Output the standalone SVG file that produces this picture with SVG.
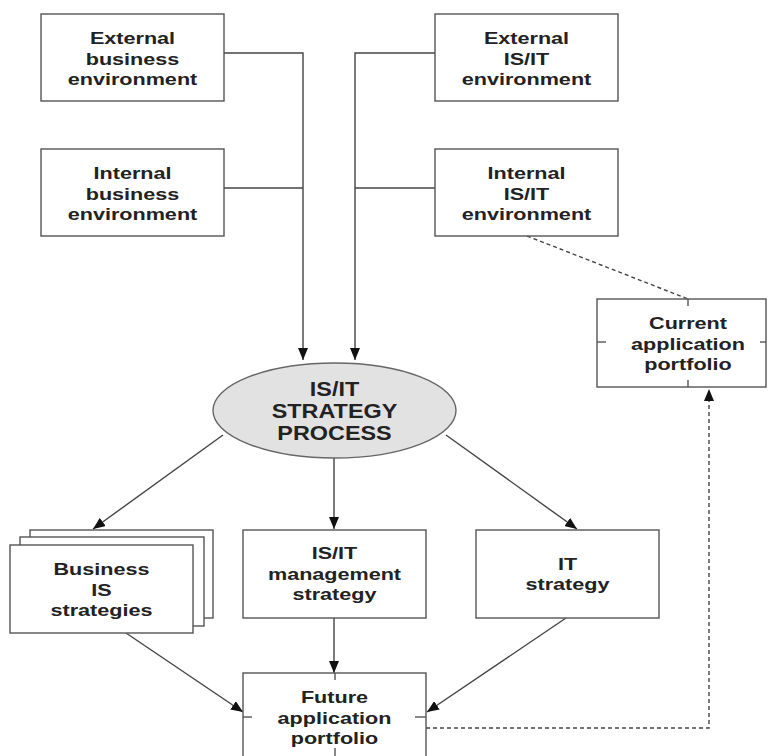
<svg xmlns="http://www.w3.org/2000/svg" width="768" height="756" viewBox="0 0 768 756">
<style>
.box{fill:#fff;stroke:#555;stroke-width:1.4}
.tick{stroke:#555;stroke-width:1.4}
.ln{fill:none;stroke:#444;stroke-width:1.4}
.dash{fill:none;stroke:#444;stroke-width:1.4;stroke-dasharray:4,3}
.t{font-family:"Liberation Sans",Arial,sans-serif;font-weight:bold;font-size:17px;fill:#222;text-anchor:middle}
.te{font-family:"Liberation Sans",Arial,sans-serif;font-weight:bold;font-size:19.5px;fill:#222;text-anchor:middle}
</style>
<defs>
<marker id="ah" markerUnits="userSpaceOnUse" markerWidth="12" markerHeight="10" refX="12" refY="5" orient="auto">
<path d="M0,0 L12,5 L0,10 Z" fill="#111"/>
</marker>
</defs>
<rect width="768" height="756" fill="#fff"/>

<g id="connectors">
<polyline class="ln" points="224,53 303,53 303,360" marker-end="url(#ah)"/>
<line class="ln" x1="224" y1="188" x2="303" y2="188"/>
<polyline class="ln" points="435,53 355,53 355,360" marker-end="url(#ah)"/>
<line class="ln" x1="435" y1="188" x2="355" y2="188"/>
<line class="dash" x1="527" y1="236" x2="688" y2="299"/>
<line class="ln" x1="223" y1="435" x2="93" y2="529" marker-end="url(#ah)"/>
<line class="ln" x1="334" y1="458" x2="334" y2="529" marker-end="url(#ah)"/>
<line class="ln" x1="446" y1="435" x2="577" y2="529" marker-end="url(#ah)"/>
<line class="ln" x1="126" y1="633" x2="243" y2="712" marker-end="url(#ah)"/>
<line class="ln" x1="334" y1="618" x2="334" y2="673" marker-end="url(#ah)"/>
<line class="ln" x1="566" y1="618" x2="427" y2="712" marker-end="url(#ah)"/>
<polyline class="dash" points="426,728 709,728 709,389" marker-end="url(#ah)"/>
</g>

<g id="ext-business">
<rect class="box" x="41" y="14" width="183" height="87"/>
<text class="t" transform="matrix(1.27 0 0 1 132.5 44)">External</text>
<text class="t" transform="matrix(1.27 0 0 1 132.5 64.5)">business</text>
<text class="t" transform="matrix(1.27 0 0 1 132.5 85)">environment</text>
</g>
<g id="int-business">
<rect class="box" x="41" y="149" width="183" height="87"/>
<text class="t" transform="matrix(1.27 0 0 1 132.5 179)">Internal</text>
<text class="t" transform="matrix(1.27 0 0 1 132.5 199.5)">business</text>
<text class="t" transform="matrix(1.27 0 0 1 132.5 220)">environment</text>
</g>
<g id="ext-isit">
<rect class="box" x="435" y="14" width="183" height="87"/>
<text class="t" transform="matrix(1.27 0 0 1 526.5 44)">External</text>
<text class="t" transform="matrix(1.27 0 0 1 526.5 64.5)">IS/IT</text>
<text class="t" transform="matrix(1.27 0 0 1 526.5 85)">environment</text>
</g>
<g id="int-isit">
<rect class="box" x="435" y="149" width="183" height="87"/>
<text class="t" transform="matrix(1.27 0 0 1 526.5 179)">Internal</text>
<text class="t" transform="matrix(1.27 0 0 1 526.5 199.5)">IS/IT</text>
<text class="t" transform="matrix(1.27 0 0 1 526.5 220)">environment</text>
</g>
<g id="current-portfolio">
<rect class="box" x="597" y="299" width="169" height="88"/>
<line class="tick" x1="688" y1="299" x2="688" y2="306"/>
<line class="tick" x1="597" y1="342" x2="606" y2="342"/>
<line class="tick" x1="688" y1="380" x2="688" y2="387"/>
<line class="tick" x1="760" y1="342" x2="766" y2="342"/>
<text class="t" transform="matrix(1.27 0 0 1 688 329)">Current</text>
<text class="t" transform="matrix(1.27 0 0 1 688 350)">application</text>
<text class="t" transform="matrix(1.27 0 0 1 688 370)">portfolio</text>
</g>
<g id="strategy-process">
<ellipse cx="334.5" cy="410.5" rx="121.5" ry="47.5" fill="#e2e2e2" stroke="#666" stroke-width="1.4"/>
<text class="te" transform="matrix(1.2 0 0 1 334.5 396)">IS/IT</text>
<text class="te" transform="matrix(1.2 0 0 1 334.5 418)">STRATEGY</text>
<text class="te" transform="matrix(1.2 0 0 1 334.5 440)">PROCESS</text>
</g>
<g id="business-is">
<rect class="box" x="30" y="530" width="183" height="88"/>
<rect class="box" x="20" y="537" width="184" height="89"/>
<rect class="box" x="10" y="545" width="183" height="88"/>
<text class="t" transform="matrix(1.27 0 0 1 101.5 575)">Business</text>
<text class="t" transform="matrix(1.27 0 0 1 101.5 596)">IS</text>
<text class="t" transform="matrix(1.27 0 0 1 101.5 616)">strategies</text>
</g>
<g id="isit-management">
<rect class="box" x="243" y="530" width="183" height="88"/>
<text class="t" transform="matrix(1.27 0 0 1 334.5 559)">IS/IT</text>
<text class="t" transform="matrix(1.27 0 0 1 334.5 580)">management</text>
<text class="t" transform="matrix(1.27 0 0 1 334.5 600)">strategy</text>
</g>
<g id="it-strategy">
<rect class="box" x="476" y="530" width="183" height="88"/>
<text class="t" transform="matrix(1.27 0 0 1 567.5 570)">IT</text>
<text class="t" transform="matrix(1.27 0 0 1 567.5 590)">strategy</text>
</g>
<g id="future-portfolio">
<rect class="box" x="243" y="673" width="183" height="90"/>
<line class="tick" x1="335" y1="673" x2="335" y2="680"/>
<line class="tick" x1="243" y1="717" x2="252" y2="717"/>
<line class="tick" x1="415" y1="717" x2="426" y2="717"/>
<line class="tick" x1="335" y1="748" x2="335" y2="756"/>
<text class="t" transform="matrix(1.27 0 0 1 334.5 703)">Future</text>
<text class="t" transform="matrix(1.27 0 0 1 334.5 724)">application</text>
<text class="t" transform="matrix(1.27 0 0 1 334.5 744)">portfolio</text>
</g>
</svg>
